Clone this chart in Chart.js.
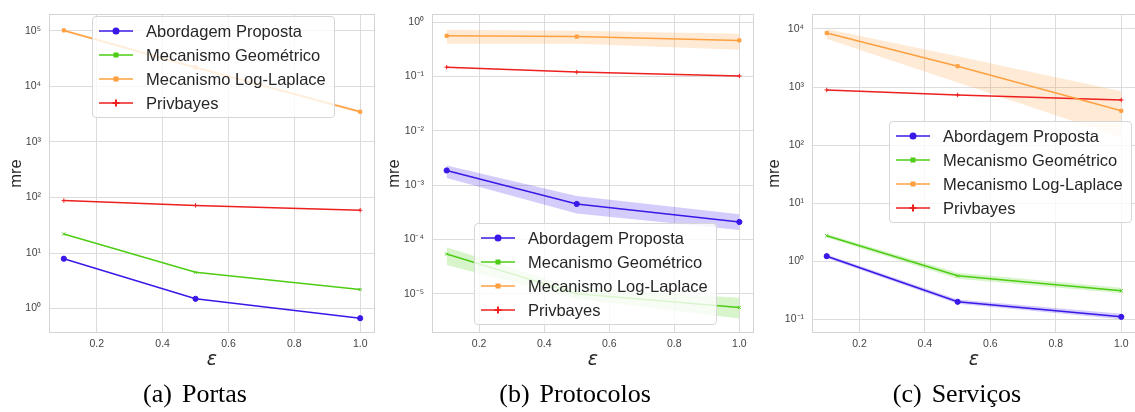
<!DOCTYPE html>
<html>
<head>
<meta charset="utf-8">
<script src="https://cdn.jsdelivr.net/npm/chart.js@4"></script>
<style>
body{margin:0;background:#fff;width:1135px;height:412px;position:relative;overflow:hidden;font-family:"Liberation Sans",Arial,sans-serif}
canvas{position:absolute;top:0}
.legend{position:absolute;box-sizing:border-box;width:243px;height:102px;padding-top:2px;background:rgba(255,255,255,0.8);border:1px solid #d6d6d6;border-radius:4px}
.row{display:flex;align-items:center;height:24px;font-size:16.5px;color:#262626;white-space:nowrap}
.row svg{margin-left:6px;margin-right:13px;flex:none}
.cap{position:absolute;top:381px;width:300px;text-align:center;font-family:"Liberation Serif","Times New Roman",serif;font-size:26px;line-height:26px;color:#000;white-space:nowrap}
.cap span{margin-right:10px}
</style>
</head>
<body>
<canvas id="c1" width="380" height="380" style="left:0px"></canvas>
<canvas id="c2" width="381" height="380" style="left:378px"></canvas>
<canvas id="c3" width="383" height="380" style="left:758px"></canvas>
<script>
var epsilons = [0.1, 0.5, 1.0];
var xTicks = [0.2, 0.4, 0.6, 0.8, 1.0];
var seriesNames = ['Abordagem Proposta', 'Mecanismo Geométrico', 'Mecanismo Log-Laplace', 'Privbayes'];
var seriesColors = ['#3b17e8', '#4ccd14', '#ffa040', '#ee1f1f'];
var seriesMarkers = ['circle', 'crossRot', 'rect', 'cross'];
var captionLetters = ['(a)', '(b)', '(c)'];
var captionNames = ['Portas', 'Protocolos', 'Serviços'];

// (a) Portas
var portasProposta = [7.9, 1.5, 0.67];
var portasGeometrico = [22, 4.5, 2.2];
var portasLogLaplace = [102000, 22000, 3500];
var portasPrivbayes = [88, 72, 59];
var portasLogLaplaceLow = [97000, 20500, 3300];
var portasLogLaplaceHigh = [107000, 23500, 3700];
var portasYTicks = [1, 10, 100, 1000, 10000, 100000];

// (b) Protocolos
var protocolosProposta = [0.00186, 0.00045, 0.00021];
var protocolosPropostaLow = [0.00135, 0.00030, 0.00015];
var protocolosPropostaHigh = [0.0023, 0.00063, 0.00029];
var protocolosGeometrico = [0.000054, 0.0000100, 0.0000056];
var protocolosGeometricoLow = [0.000034, 0.0000080, 0.0000035];
var protocolosGeometricoHigh = [0.000072, 0.0000125, 0.0000085];
var protocolosLogLaplace = [0.56, 0.54, 0.46];
var protocolosLogLaplaceLow = [0.40, 0.40, 0.31];
var protocolosLogLaplaceHigh = [0.72, 0.69, 0.61];
var protocolosPrivbayes = [0.148, 0.12, 0.102];
var protocolosYTicks = [0.00001, 0.0001, 0.001, 0.01, 0.1, 1];

// (c) Serviços
var servicosProposta = [1.22, 0.20, 0.11];
var servicosPropostaLow = [1.14, 0.185, 0.10];
var servicosPropostaHigh = [1.31, 0.22, 0.125];
var servicosGeometrico = [2.75, 0.56, 0.31];
var servicosGeometricoLow = [2.55, 0.50, 0.28];
var servicosGeometricoHigh = [2.95, 0.63, 0.35];
var servicosLogLaplace = [8500, 2280, 390];
var servicosLogLaplaceLow = [6800, 1200, 137];
var servicosLogLaplaceHigh = [10000, 3400, 850];
var servicosPrivbayes = [890, 730, 600];
var servicosYTicks = [0.1, 1, 10, 100, 1000, 10000];

var panels = [
  {id:'c1', left:0, yWidth:49, padTop:7, padRight:3, yMin:0.363, yMax:199000, yTicks:portasYTicks,
   series:[portasProposta, portasGeometrico, portasLogLaplace, portasPrivbayes],
   bands:[null, null, [portasLogLaplaceLow, portasLogLaplaceHigh], null],
   legendLeft:92, legendTop:16, capCenter:195},
  {id:'c2', left:378, yWidth:54, padTop:7, padRight:0, yMin:0.0000019, yMax:1.39, yTicks:protocolosYTicks,
   series:[protocolosProposta, protocolosGeometrico, protocolosLogLaplace, protocolosPrivbayes],
   bands:[[protocolosPropostaLow, protocolosPropostaHigh], [protocolosGeometricoLow, protocolosGeometricoHigh], [protocolosLogLaplaceLow, protocolosLogLaplaceHigh], null],
   legendLeft:474, legendTop:223, capCenter:575},
  {id:'c3', left:758, yWidth:54, padTop:8, padRight:0, yMin:0.058, yMax:17900, yTicks:servicosYTicks,
   series:[servicosProposta, servicosGeometrico, servicosLogLaplace, servicosPrivbayes],
   bands:[[servicosPropostaLow, servicosPropostaHigh], [servicosGeometricoLow, servicosGeometricoHigh], [servicosLogLaplaceLow, servicosLogLaplaceHigh], null],
   legendLeft:889, legendTop:121, capCenter:957}
];

var supMap = {'-':'⁻','0':'⁰','1':'¹','2':'²','3':'³','4':'⁴','5':'⁵','6':'⁶','7':'⁷','8':'⁸','9':'⁹'};
function powLabel(v){
  var e = String(Math.round(Math.log10(v)));
  return '10' + e.split('').map(function(c){ return supMap[c]; }).join('');
}
function rgba(hex, a){
  var n = parseInt(hex.slice(1), 16);
  return 'rgba(' + (n >> 16) + ',' + ((n >> 8) & 255) + ',' + (n & 255) + ',' + a + ')';
}
function pts(arr){ return arr.map(function(v, i){ return {x: epsilons[i], y: v}; }); }

var framePlugin = {
  id: 'frame',
  beforeDatasetsDraw: function(chart){
    var a = chart.chartArea, ctx = chart.ctx;
    ctx.save();
    ctx.strokeStyle = '#d4d4d4';
    ctx.lineWidth = 1;
    ctx.strokeRect(Math.round(a.left) + 0.5, Math.round(a.top) + 0.5, Math.round(a.right - a.left) - 1, Math.round(a.bottom - a.top) - 1);
    ctx.restore();
  }
};

var tickFont = {family: '"Liberation Sans", Arial, sans-serif', size: 10.5};

panels.forEach(function(p){
  var datasets = [];
  p.series.forEach(function(s, k){
    var col = seriesColors[k];
    if (p.bands[k]) {
      datasets.push({data: pts(p.bands[k][0]), borderWidth: 0, pointRadius: 0, fill: false, order: 2});
      datasets.push({data: pts(p.bands[k][1]), borderWidth: 0, pointRadius: 0, fill: '-1', backgroundColor: rgba(col, 0.22), order: 2});
    }
    datasets.push({
      label: seriesNames[k], data: pts(s), borderColor: col, backgroundColor: col,
      borderWidth: 1.5, tension: 0, fill: false, order: 1,
      pointStyle: seriesMarkers[k], pointRadius: k === 0 ? 2.6 : 2.2,
      pointBorderColor: col, pointBackgroundColor: col, pointBorderWidth: 1
    });
  });

  new Chart(document.getElementById(p.id).getContext('2d'), {
    type: 'line',
    data: {datasets: datasets},
    plugins: [framePlugin],
    options: {
      responsive: false,
      animation: false,
      layout: {padding: {left: 0, top: p.padTop, right: p.padRight, bottom: 0}},
      plugins: {legend: {display: false}, tooltip: {enabled: false}},
      scales: {
        x: {
          type: 'linear', min: 0.055, max: 1.045,
          afterBuildTicks: function(s){ s.ticks = xTicks.map(function(v){ return {value: v}; }); },
          afterFit: function(s){ s.height = 47; },
          ticks: {callback: function(v){ return v.toFixed(1); }, font: tickFont, color: '#444', padding: 5, maxRotation: 0, autoSkip: false},
          grid: {color: '#dcdcdc', drawTicks: false},
          border: {display: false},
          title: {display: true, text: 'ε', color: '#262626', font: {family: '"DejaVu Sans", sans-serif', size: 19, style: 'italic'}, padding: {top: 0, bottom: 8.6}}
        },
        y: {
          type: 'logarithmic', min: p.yMin, max: p.yMax,
          afterBuildTicks: function(s){ s.ticks = p.yTicks.map(function(v){ return {value: v}; }); },
          afterFit: function(s){ s.width = p.yWidth; },
          ticks: {callback: function(v){ return powLabel(v); }, font: tickFont, color: '#444', padding: 8, autoSkip: false},
          grid: {color: '#dcdcdc', drawTicks: false},
          border: {display: false},
          title: {display: true, text: 'mre', color: '#262626', font: {family: '"Liberation Sans", Arial, sans-serif', size: 16.5}, padding: {top: 7, bottom: 0}}
        }
      }
    }
  });

  // legend box
  var lg = document.createElement('div');
  lg.className = 'legend';
  lg.style.left = p.legendLeft + 'px';
  lg.style.top = p.legendTop + 'px';
  seriesNames.forEach(function(name, k){
    var col = seriesColors[k];
    var mk;
    if (seriesMarkers[k] === 'circle') mk = '<circle cx="17" cy="6" r="3.5" fill="' + col + '"/>';
    else if (seriesMarkers[k] === 'cross') mk = '<path d="M17 2.5V9.5M13.5 6H20.5" stroke="' + col + '" stroke-width="2"/>';
    else mk = '<rect x="14.5" y="3.5" width="5" height="5" fill="' + col + '"/>';
    var row = document.createElement('div');
    row.className = 'row';
    row.innerHTML = '<svg width="34" height="12"><line x1="0" y1="6" x2="34" y2="6" stroke="' + col + '" stroke-width="1.5"/>' + mk + '</svg><span>' + name + '</span>';
    lg.appendChild(row);
  });
  document.body.appendChild(lg);
});

captionLetters.forEach(function(letter, i){
  var c = document.createElement('div');
  c.className = 'cap';
  c.style.left = (panels[i].capCenter - 150) + 'px';
  c.innerHTML = '<span>' + letter + '</span>' + captionNames[i];
  document.body.appendChild(c);
});
</script>
</body>
</html>
